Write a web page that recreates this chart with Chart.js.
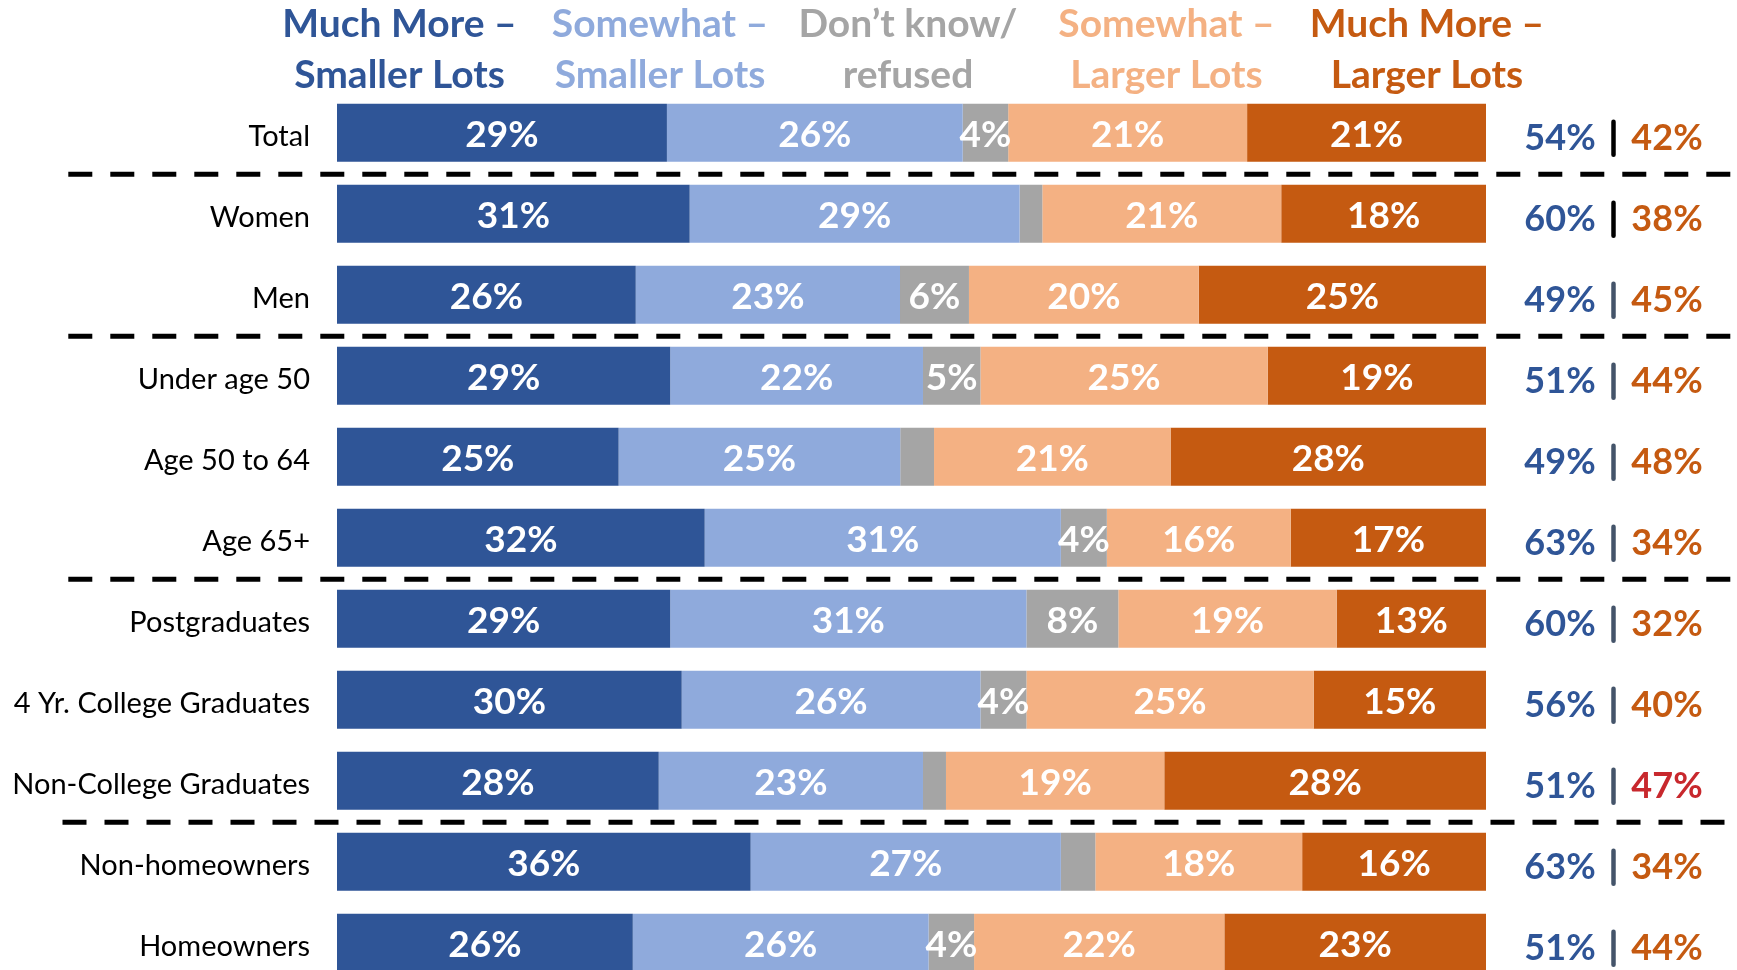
<!DOCTYPE html>
<html>
<head>
<meta charset="utf-8">
<script src="https://cdn.jsdelivr.net/npm/chart.js@4"></script>
<style>
html,body{margin:0;padding:0;background:#fff;overflow:hidden}
#wrap{width:1737px;height:970px;overflow:hidden;position:relative}
canvas{display:block}
</style>
</head>
<body>
<div id="wrap"><canvas id="c" width="1737" height="1001"></canvas></div>
<script>
// ---------- data ----------
const categories = ['Total', 'Women', 'Men', 'Under age 50', 'Age 50 to 64', 'Age 65+',
  'Postgraduates', '4 Yr. College Graduates', 'Non-College Graduates', 'Non-homeowners', 'Homeowners'];
const seriesNames = ['Much More –\nSmaller Lots', 'Somewhat –\nSmaller Lots', 'Don’t know/\nrefused',
  'Somewhat –\nLarger Lots', 'Much More –\nLarger Lots'];
const muchSmaller     = [29, 31, 26, 29, 25, 32, 29, 30, 28, 36, 26];
const somewhatSmaller = [26, 29, 23, 22, 25, 31, 31, 26, 23, 27, 26];
const dontKnow        = [4, 2, 6, 5, 3, 4, 8, 4, 2, 3, 4];
const somewhatLarger  = [21, 21, 20, 25, 21, 16, 19, 25, 19, 18, 22];
const muchLarger      = [21, 18, 25, 19, 28, 17, 13, 15, 28, 16, 23];
const smallerTotal    = [54, 60, 49, 51, 49, 63, 60, 56, 51, 63, 51];
const largerTotal     = [42, 38, 45, 44, 48, 34, 32, 40, 47, 34, 44];
const groupEndsAfter  = [0, 2, 5, 8];

// ---------- style ----------
const colors = ['#2F5597', '#8FAADC', '#A5A5A5', '#F4B183', '#C55A11'];
const FONT = 'Lato';
const highlightRow = 8;

const rawSeries = [muchSmaller, somewhatSmaller, dontKnow, somewhatLarger, muchLarger];
const rowSums = categories.map((_, i) => rawSeries.reduce((s, a) => s + a[i], 0));

const datasets = rawSeries.map((arr, k) => ({
  label: seriesNames[k],
  data: arr.map((v, i) => v / rowSums[i] * 100),
  rawValues: arr,
  backgroundColor: colors[k],
  borderWidth: 0,
  barPercentage: 0.716,
  categoryPercentage: 1
}));

const barLabelPlugin = {
  id: 'barLabels',
  afterDatasetsDraw(chart) {
    const ctx = chart.ctx;
    ctx.save();
    ctx.fillStyle = '#fff';
    ctx.font = 'bold 37px ' + FONT;
    ctx.textAlign = 'center';
    ctx.textBaseline = 'alphabetic';
    chart.data.datasets.forEach((ds, k) => {
      const meta = chart.getDatasetMeta(k);
      meta.data.forEach((el, i) => {
        const v = ds.rawValues[i];
        if (v < 4) return;
        const p = el.getProps(['x', 'y', 'base'], true);
        ctx.fillText(v + '%', (p.x + p.base) / 2, p.y + 14.5);
      });
    });
    ctx.restore();
  }
};

const headerPlugin = {
  id: 'header',
  afterDraw(chart) {
    const ctx = chart.ctx;
    const xs = [399.5, 660, 908, 1166.5, 1427];
    ctx.save();
    ctx.font = 'bold 39px ' + FONT;
    ctx.textAlign = 'center';
    ctx.textBaseline = 'alphabetic';
    chart.data.datasets.forEach((ds, k) => {
      ctx.fillStyle = ds.backgroundColor;
      ds.label.split('\n').forEach((line, j) => {
        ctx.fillText(line, xs[k], 37 + j * 51);
      });
    });
    ctx.restore();
  }
};

const sidePlugin = {
  id: 'side',
  afterDraw(chart) {
    const ctx = chart.ctx;
    const y = chart.scales.y;
    ctx.save();
    ctx.font = 'bold 36px ' + FONT;
    ctx.textAlign = 'center';
    ctx.textBaseline = 'alphabetic';
    categories.forEach((c, i) => {
      const cy = y.getPixelForValue(i);
      ctx.fillStyle = colors[0];
      ctx.fillText(smallerTotal[i] + '%', 1560, cy + 17);
      ctx.fillStyle = i === highlightRow ? '#C8282D' : colors[4];
      ctx.fillText(largerTotal[i] + '%', 1667, cy + 17);
      ctx.strokeStyle = i < 2 ? '#000' : '#44546A';
      ctx.lineWidth = 4.5;
      ctx.lineCap = 'round';
      ctx.beginPath();
      ctx.moveTo(1613.5, cy - 11);
      ctx.lineTo(1613.5, cy + 22);
      ctx.stroke();
    });
    ctx.restore();
  }
};

const separatorPlugin = {
  id: 'separators',
  afterDraw(chart) {
    const ctx = chart.ctx;
    const y = chart.scales.y;
    ctx.save();
    ctx.strokeStyle = '#000';
    ctx.lineWidth = 5;
    ctx.setLineDash([24, 18]);
    groupEndsAfter.forEach((g, n) => {
      const py = (y.getPixelForValue(g) + y.getPixelForValue(g + 1)) / 2 + 1;
      const x0 = n === 3 ? 62.5 : 68.3;
      ctx.beginPath();
      ctx.moveTo(x0, py);
      ctx.lineTo(x0 + 39 * 42 + 24, py);
      ctx.stroke();
    });
    ctx.restore();
  }
};

function build() {
  new Chart(document.getElementById('c'), {
    type: 'bar',
    data: { labels: categories, datasets },
    options: {
      indexAxis: 'y',
      responsive: false,
      animation: false,
      devicePixelRatio: 1,
      layout: { padding: { top: 92.3, bottom: 17.7, left: 0, right: 251 } },
      plugins: { legend: { display: false }, tooltip: { enabled: false } },
      scales: {
        x: { stacked: true, min: 0, max: 100, display: false },
        y: {
          stacked: true,
          grid: { display: false, drawTicks: true, tickLength: 27 },
          border: { display: false },
          ticks: {
            color: '#000',
            font: { family: FONT, size: 29, lineHeight: 1 },
            padding: 0,
            labelOffset: 3.5
          },
          afterFit(scale) { scale.width = 337; }
        }
      }
    },
    plugins: [barLabelPlugin, headerPlugin, sidePlugin, separatorPlugin]
  });
}

Promise.all([
  document.fonts.load('29px Lato'),
  document.fonts.load('bold 36px Lato')
]).then(build, build);
</script>
</body>
</html>
